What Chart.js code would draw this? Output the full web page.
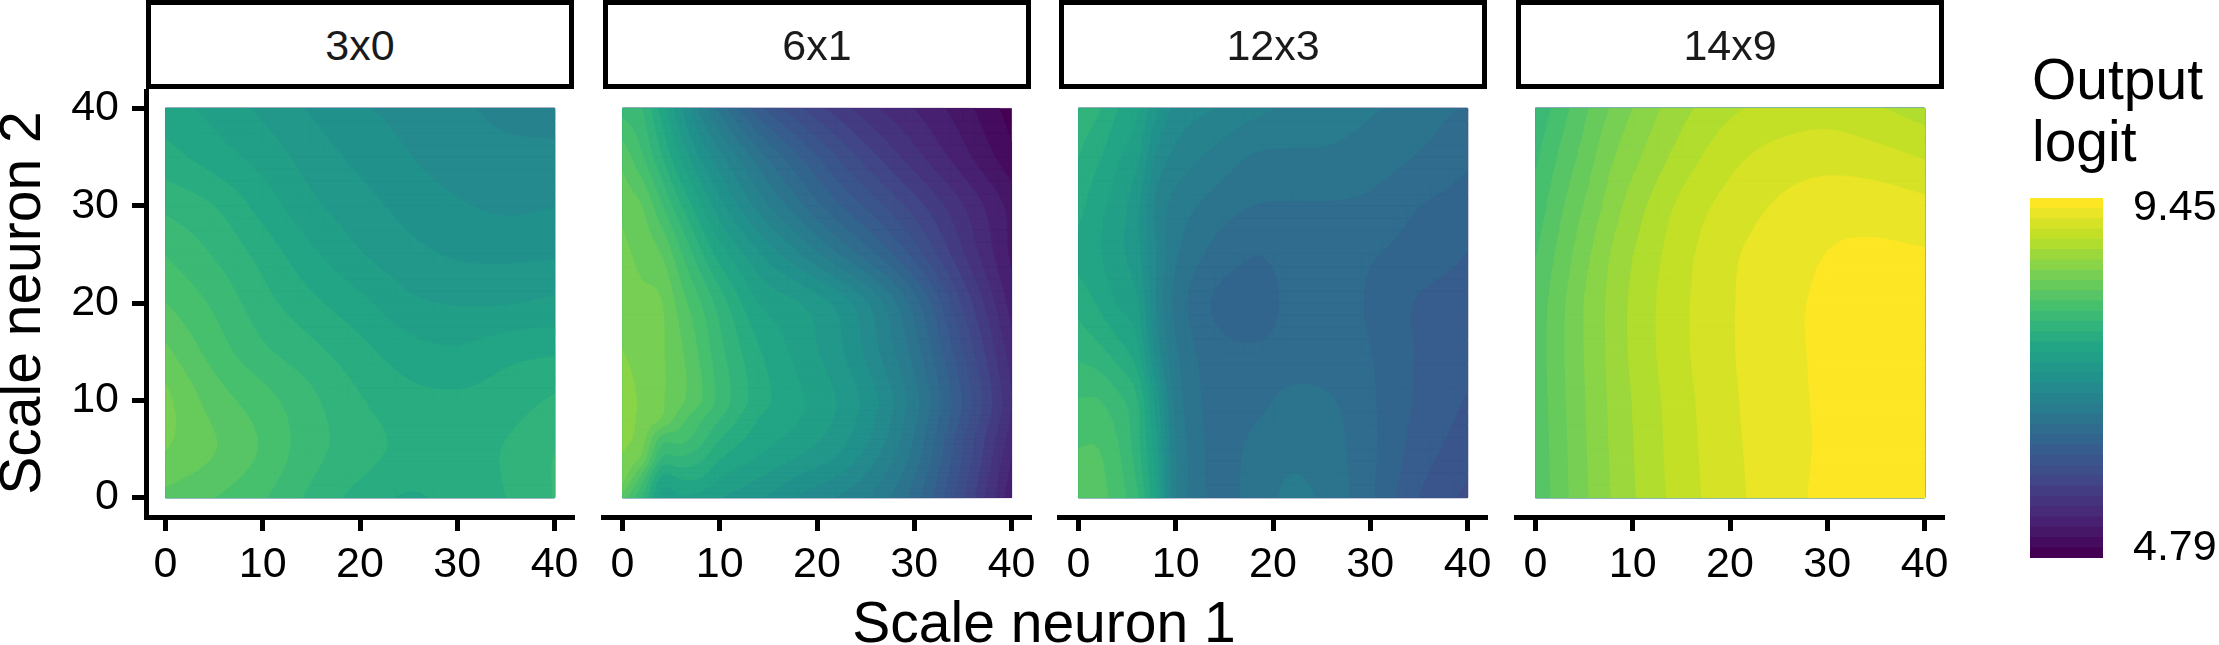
<!DOCTYPE html>
<html>
<head>
<meta charset="utf-8">
<title>Output logit by scale neuron</title>
<script src="https://cdn.jsdelivr.net/npm/chart.js@4/dist/chart.umd.min.js"></script>
<style>
    html, body { margin: 0; padding: 0; background: #fff; overflow: hidden; }
    body { width: 2219px; height: 645px; position: relative; font-family: "Liberation Sans", sans-serif; color: #000; }
    canvas { position: absolute; }
    .strip { position: absolute; top: 0; height: 89px; width: 428px; box-sizing: border-box; border: 5.5px solid #000; color: #1a1a1a; font-size: 43px; text-align: center; line-height: 80px; }
    .xTitle { position: absolute; left: 0; top: 591px; width: 2088px; text-align: center; font-size: 57px; line-height: 62px; }
    .legendTitle { position: absolute; left: 2032px; top: 48px; font-size: 57px; line-height: 62px; }
</style>
</head>
<body>

<div class="xTitle">Scale neuron 1</div>
<div class="legendTitle">Output<br>logit</div>

<script>
const panelNames = ["3x0", "6x1", "12x3", "14x9"];
const neuronTicks = [0, 10, 20, 30, 40];

const zMin = 4.79;
const zMax = 9.45;
const bandCount = 35;

const viridisStops = ["#440154", "#482475", "#414487", "#355F8D", "#2A788E", "#21918C", "#22A884", "#44BF70", "#7AD151", "#BBDF27", "#FDE725"];

// logit grids, one row per scale neuron 2 value, bottom row first
const x3x0 = [0, 5, 10, 15, 20, 25, 30, 35, 40];
const y3x0 = [0, 5, 10, 15, 20, 25, 30, 35, 40];
const z3x0 = [
    [8.21, 8.12, 8.00, 7.82, 7.67, 7.57, 7.64, 7.72, 7.86],
    [8.39, 8.26, 8.10, 7.90, 7.78, 7.68, 7.65, 7.73, 7.85],
    [8.42, 8.19, 8.04, 7.88, 7.73, 7.63, 7.61, 7.65, 7.74],
    [8.28, 8.06, 7.88, 7.76, 7.63, 7.51, 7.47, 7.54, 7.57],
    [8.12, 7.96, 7.77, 7.62, 7.49, 7.35, 7.31, 7.31, 7.35],
    [7.98, 7.84, 7.67, 7.48, 7.33, 7.23, 7.17, 7.16, 7.17],
    [7.82, 7.72, 7.53, 7.35, 7.24, 7.14, 7.07, 7.03, 7.05],
    [7.64, 7.52, 7.40, 7.26, 7.15, 7.06, 6.99, 6.96, 6.96],
    [7.51, 7.41, 7.29, 7.17, 7.07, 7.01, 6.95, 6.88, 6.85]
];

const x6x1 = [0, 2, 4, 6, 8, 10, 14, 18, 22, 26, 30, 35, 40];
const y6x1 = [0, 2, 4, 6, 8, 10, 15, 20, 25, 30, 35, 40];
const z6x1 = [
    [8.18, 7.85, 7.40, 7.44, 7.40, 7.33, 7.21, 7.04, 6.92, 6.75, 6.45, 5.88, 5.22],
    [8.44, 8.05, 7.55, 7.60, 7.59, 7.45, 7.32, 7.17, 7.04, 6.84, 6.52, 5.92, 5.27],
    [8.50, 8.34, 7.83, 7.83, 7.75, 7.59, 7.44, 7.31, 7.17, 6.93, 6.59, 5.97, 5.32],
    [8.56, 8.44, 8.05, 8.03, 7.90, 7.72, 7.52, 7.40, 7.25, 7.01, 6.64, 6.00, 5.38],
    [8.59, 8.48, 8.37, 8.16, 8.00, 7.85, 7.58, 7.46, 7.30, 7.05, 6.68, 6.07, 5.43],
    [8.60, 8.49, 8.40, 8.28, 8.13, 7.94, 7.65, 7.48, 7.32, 7.08, 6.71, 6.11, 5.46],
    [8.52, 8.46, 8.40, 8.27, 8.09, 7.89, 7.60, 7.41, 7.23, 6.95, 6.59, 5.99, 5.38],
    [8.46, 8.42, 8.39, 8.18, 7.99, 7.79, 7.45, 7.33, 7.15, 6.86, 6.45, 5.83, 5.26],
    [8.42, 8.34, 8.25, 8.00, 7.75, 7.52, 7.20, 6.94, 6.67, 6.39, 6.07, 5.60, 5.16],
    [8.34, 8.25, 8.00, 7.73, 7.47, 7.23, 6.87, 6.57, 6.28, 6.04, 5.79, 5.46, 5.14],
    [8.20, 8.00, 7.73, 7.43, 7.17, 6.96, 6.58, 6.27, 5.99, 5.74, 5.51, 5.24, 4.96],
    [7.93, 7.85, 7.53, 7.19, 6.88, 6.61, 6.17, 5.89, 5.66, 5.47, 5.32, 5.11, 4.86]
];

const x12x3 = [0, 2, 4, 6, 8, 10, 14, 18, 22, 26, 30, 35, 40];
const y12x3 = [0, 5, 10, 15, 20, 25, 30, 35, 40];
const z12x3 = [
    [8.21, 8.17, 8.05, 7.87, 7.43, 6.80, 6.49, 6.57, 6.69, 6.60, 6.41, 6.12, 5.95],
    [8.12, 8.12, 8.00, 7.77, 7.35, 6.79, 6.48, 6.55, 6.62, 6.57, 6.42, 6.19, 6.05],
    [7.99, 7.99, 7.89, 7.73, 7.25, 6.73, 6.47, 6.48, 6.56, 6.53, 6.41, 6.23, 6.11],
    [7.82, 7.76, 7.65, 7.49, 7.00, 6.67, 6.44, 6.40, 6.43, 6.44, 6.39, 6.24, 6.17],
    [7.67, 7.57, 7.44, 7.34, 6.91, 6.61, 6.37, 6.35, 6.41, 6.45, 6.37, 6.24, 6.20],
    [7.55, 7.47, 7.36, 7.23, 6.92, 6.67, 6.48, 6.39, 6.43, 6.45, 6.40, 6.33, 6.25],
    [7.63, 7.50, 7.39, 7.22, 6.89, 6.74, 6.60, 6.52, 6.51, 6.51, 6.49, 6.39, 6.33],
    [7.72, 7.61, 7.47, 7.35, 7.03, 6.88, 6.75, 6.64, 6.63, 6.63, 6.59, 6.51, 6.41],
    [7.80, 7.74, 7.59, 7.48, 7.21, 7.02, 6.92, 6.83, 6.76, 6.72, 6.67, 6.59, 6.50]
];

const x14x9 = [0, 2.5, 5, 7.5, 10, 15, 20, 25, 30, 35, 40];
const y14x9 = [0, 5, 10, 15, 20, 25, 30, 35, 40];
const z14x9 = [
    [8.14, 8.32, 8.49, 8.64, 8.77, 8.98, 9.14, 9.26, 9.35, 9.40, 9.44],
    [8.15, 8.33, 8.50, 8.65, 8.78, 8.99, 9.15, 9.26, 9.34, 9.40, 9.44],
    [8.16, 8.34, 8.51, 8.66, 8.79, 9.00, 9.16, 9.27, 9.34, 9.40, 9.44],
    [8.17, 8.35, 8.52, 8.67, 8.81, 9.02, 9.17, 9.28, 9.34, 9.40, 9.44],
    [8.16, 8.34, 8.52, 8.67, 8.81, 9.02, 9.17, 9.28, 9.34, 9.40, 9.41],
    [8.11, 8.29, 8.47, 8.64, 8.78, 9.00, 9.16, 9.25, 9.32, 9.34, 9.33],
    [8.03, 8.22, 8.39, 8.56, 8.71, 8.95, 9.10, 9.20, 9.26, 9.26, 9.22],
    [7.96, 8.14, 8.30, 8.48, 8.61, 8.84, 9.01, 9.10, 9.13, 9.10, 9.04],
    [7.87, 8.05, 8.22, 8.38, 8.52, 8.74, 8.89, 8.96, 8.99, 8.93, 8.85]
];

const panelGrids = [
    { xs: x3x0, ys: y3x0, z: z3x0 },
    { xs: x6x1, ys: y6x1, z: z6x1 },
    { xs: x12x3, ys: y12x3, z: z12x3 },
    { xs: x14x9, ys: y14x9, z: z14x9 }
];

const plotLefts = [146, 603, 1059, 1516];
const plotWidth = 428;
const plotTop = 89;
const plotHeight = 428;
const tickFont = 43;
const contourSteps = 4;

Chart.defaults.font.family = '"Liberation Sans", sans-serif';
Chart.defaults.color = "#000";
Chart.defaults.animation = false;


function hexToRgb(hex) {
    return [1, 3, 5].map(i => parseInt(hex.slice(i, i + 2), 16));
}

function viridis(t) {
    const pos = t * (viridisStops.length - 1);
    const i = Math.min(Math.floor(pos), viridisStops.length - 2);
    const a = hexToRgb(viridisStops[i]);
    const b = hexToRgb(viridisStops[i + 1]);
    const c = a.map((v, n) => Math.round(v + (b[n] - v) * (pos - i)));
    return "rgb(" + c.join(",") + ")";
}

// cubic through one line of the grid, so contours bend instead of kinking at grid lines
function cubicAt(pos, vals, p) {
    let i = 0;
    while (i < pos.length - 2 && p > pos[i + 1]) i++;
    const h = pos[i + 1] - pos[i];
    const t = (p - pos[i]) / h;
    const slope = (n) => {
        const a = Math.max(n - 1, 0);
        const b = Math.min(n + 1, pos.length - 1);
        return (vals[b] - vals[a]) / (pos[b] - pos[a]);
    };
    const t2 = t * t;
    const t3 = t2 * t;
    return (2 * t3 - 3 * t2 + 1) * vals[i] + (t3 - 2 * t2 + t) * h * slope(i)
        + (3 * t2 - 2 * t3) * vals[i + 1] + (t3 - t2) * h * slope(i + 1);
}

function subdivide(pos) {
    const out = [];
    for (let i = 0; i < pos.length - 1; i++) {
        for (let s = 0; s < contourSteps; s++) {
            out.push(pos[i] + (pos[i + 1] - pos[i]) * s / contourSteps);
        }
    }
    out.push(pos[pos.length - 1]);
    return out;
}

function contourGrid(grid) {
    const xs = subdivide(grid.xs);
    const ys = subdivide(grid.ys);
    const wide = grid.z.map(row => xs.map(x => cubicAt(grid.xs, row, x)));
    const z = ys.map(y => xs.map((x, c) => cubicAt(grid.ys, wide.map(row => row[c]), y)));
    return { xs, ys, z };
}

const gap = { x: NaN, y: NaN };

// outline of one grid cell where the surface is at or above level
function clipCell(cell, level) {
    const out = [];
    for (let i = 0; i < 4; i++) {
        const p = cell[i];
        const q = cell[(i + 1) % 4];
        if (p.z >= level) {
            out.push({ x: p.x, y: p.y });
        }
        if ((p.z >= level) !== (q.z >= level)) {
            const f = (level - p.z) / (q.z - p.z);
            out.push({ x: p.x + (q.x - p.x) * f, y: p.y + (q.y - p.y) * f });
        }
    }
    return out;
}

// everything at or above level, as polygons split by NaN points
function levelOutline(grid, level) {
    const points = [];
    const { xs, ys, z } = grid;
    for (let r = 0; r < ys.length - 1; r++) {
        let runStart = -1;
        const closeRun = (end) => {
            if (runStart < 0) return;
            points.push({ x: xs[runStart], y: ys[r] }, { x: xs[end], y: ys[r] }, { x: xs[end], y: ys[r + 1] }, { x: xs[runStart], y: ys[r + 1] }, gap);
            runStart = -1;
        };
        for (let c = 0; c < xs.length - 1; c++) {
            const cell = [
                { x: xs[c], y: ys[r], z: z[r][c] },
                { x: xs[c + 1], y: ys[r], z: z[r][c + 1] },
                { x: xs[c + 1], y: ys[r + 1], z: z[r + 1][c + 1] },
                { x: xs[c], y: ys[r + 1], z: z[r + 1][c] }
            ];
            const inside = cell.filter(p => p.z >= level).length;
            if (inside === 4) {
                if (runStart < 0) runStart = c;
                continue;
            }
            closeRun(c);
            if (inside > 0) {
                points.push(...clipCell(cell, level), gap);
            }
        }
        closeRun(xs.length - 1);
    }
    return points;
}

// scatter points have no fill of their own, so the bands are closed here from the laid out elements
const bandFill = {
    id: "bandFill",
    beforeDatasetDraw(chart, args) {
        const ctx = chart.ctx;
        const color = chart.data.datasets[args.index].backgroundColor;
        let open = false;
        ctx.save();
        ctx.fillStyle = color;
        ctx.strokeStyle = color;
        ctx.lineWidth = 0.7;
        ctx.beginPath();
        for (const pt of args.meta.data) {
            if (pt.skip) {
                open = false;
            } else if (open) {
                ctx.lineTo(pt.x, pt.y);
            } else {
                ctx.moveTo(pt.x, pt.y);
                open = true;
            }
        }
        ctx.fill();
        ctx.stroke();
        ctx.restore();
    }
};

function setTicks(values) {
    return (scale) => {
        scale.ticks = values.map(v => ({ value: v }));
    };
}

function addCanvas(left, top, width, height) {
    const canvas = document.createElement("canvas");
    canvas.width = width;
    canvas.height = height;
    canvas.style.left = left + "px";
    canvas.style.top = top + "px";
    canvas.style.width = width + "px";
    canvas.style.height = height + "px";
    document.body.appendChild(canvas);
    return canvas;
}

// keep the label overhang from pushing the plot area around
function noOverhang(scale) {
    scale.paddingLeft = 0;
    scale.paddingRight = 0;
    scale.paddingTop = 0;
    scale.paddingBottom = 0;
}

function drawPanel(index) {
    const grid = contourGrid(panelGrids[index]);
    const first = index === 0;
    const padLeft = first ? 0 : 30;
    const canvasLeft = first ? 0 : plotLefts[index] - padLeft;
    const canvasWidth = first ? 600 : 490;
    const canvas = addCanvas(canvasLeft, plotTop, canvasWidth, 645 - plotTop);

    const datasets = [];
    const bandWidth = (zMax - zMin) / bandCount;
    for (let k = 0; k < bandCount; k++) {
        datasets.push({
            data: levelOutline(grid, zMin + k * bandWidth),
            backgroundColor: viridis(k / (bandCount - 1)),
            showLine: false,
            pointRadius: 0,
            pointHoverRadius: 0,
            order: bandCount - k
        });
    }

    new Chart(canvas, {
        type: "scatter",
        data: { datasets: datasets },
        plugins: [bandFill],
        options: {
            responsive: false,
            events: [],
            layout: { padding: { left: padLeft, right: canvasWidth - plotWidth - (first ? plotLefts[0] : padLeft), top: 0, bottom: 0 } },
            plugins: { legend: { display: false }, tooltip: { enabled: false } },
            scales: {
                x: {
                    type: "linear",
                    min: -2,
                    max: 42,
                    afterBuildTicks: setTicks(neuronTicks),
                    afterFit(scale) {
                        scale.height = 645 - plotTop - plotHeight;
                        noOverhang(scale);
                    },
                    border: { color: "#000", width: 5 },
                    grid: { drawOnChartArea: false, drawTicks: true, tickLength: 14, tickWidth: 5, tickColor: "#000" },
                    ticks: { font: { size: tickFont }, color: "#000", padding: 8, maxRotation: 0 }
                },
                y: {
                    type: "linear",
                    display: first,
                    min: -2,
                    max: 42,
                    afterBuildTicks: setTicks(neuronTicks),
                    afterFit(scale) {
                        scale.width = first ? plotLefts[0] : 0;
                        noOverhang(scale);
                    },
                    border: { color: "#000", width: 5 },
                    grid: { drawOnChartArea: false, drawTicks: true, tickLength: 14, tickWidth: 5, tickColor: "#000" },
                    ticks: { font: { size: tickFont }, color: "#000", padding: 13 },
                    title: { display: true, text: "Scale neuron 2", color: "#000", font: { size: 57, lineHeight: 0.85 }, padding: 0 }
                }
            }
        }
    });

    const strip = document.createElement("div");
    strip.className = "strip";
    strip.style.left = plotLefts[index] + "px";
    strip.textContent = panelNames[index];
    document.body.appendChild(strip);
}

function drawLegend() {
    // the legend's labelled values sit one band in from each end of the bar
    const step = (zMax - zMin) / (bandCount - 2);
    const canvas = addCanvas(2030, 180, 189, 400);
    const datasets = [];
    for (let k = 0; k < bandCount; k++) {
        datasets.push({
            data: [[zMin + (k - 1) * step, zMin + k * step]],
            backgroundColor: viridis(k / (bandCount - 1)),
            borderWidth: 0,
            barPercentage: 1,
            categoryPercentage: 1,
            grouped: false
        });
    }
    new Chart(canvas, {
        type: "bar",
        data: { labels: ["logit"], datasets: datasets },
        options: {
            responsive: false,
            events: [],
            layout: { padding: { top: 18, bottom: 22, left: 0, right: 0 } },
            plugins: { legend: { display: false }, tooltip: { enabled: false } },
            scales: {
                x: { display: false, stacked: false },
                y: {
                    position: "right",
                    min: zMin - step,
                    max: zMax + step,
                    afterBuildTicks: setTicks([zMin, zMax]),
                    afterFit(scale) {
                        scale.width = 116;
                        noOverhang(scale);
                    },
                    border: { display: false },
                    grid: { display: false, drawTicks: false },
                    ticks: { font: { size: tickFont }, color: "#000", padding: 30, callback: v => v.toFixed(2) }
                }
            }
        }
    });
}

panelNames.forEach((name, i) => drawPanel(i));
drawLegend();
</script>
</body>
</html>
